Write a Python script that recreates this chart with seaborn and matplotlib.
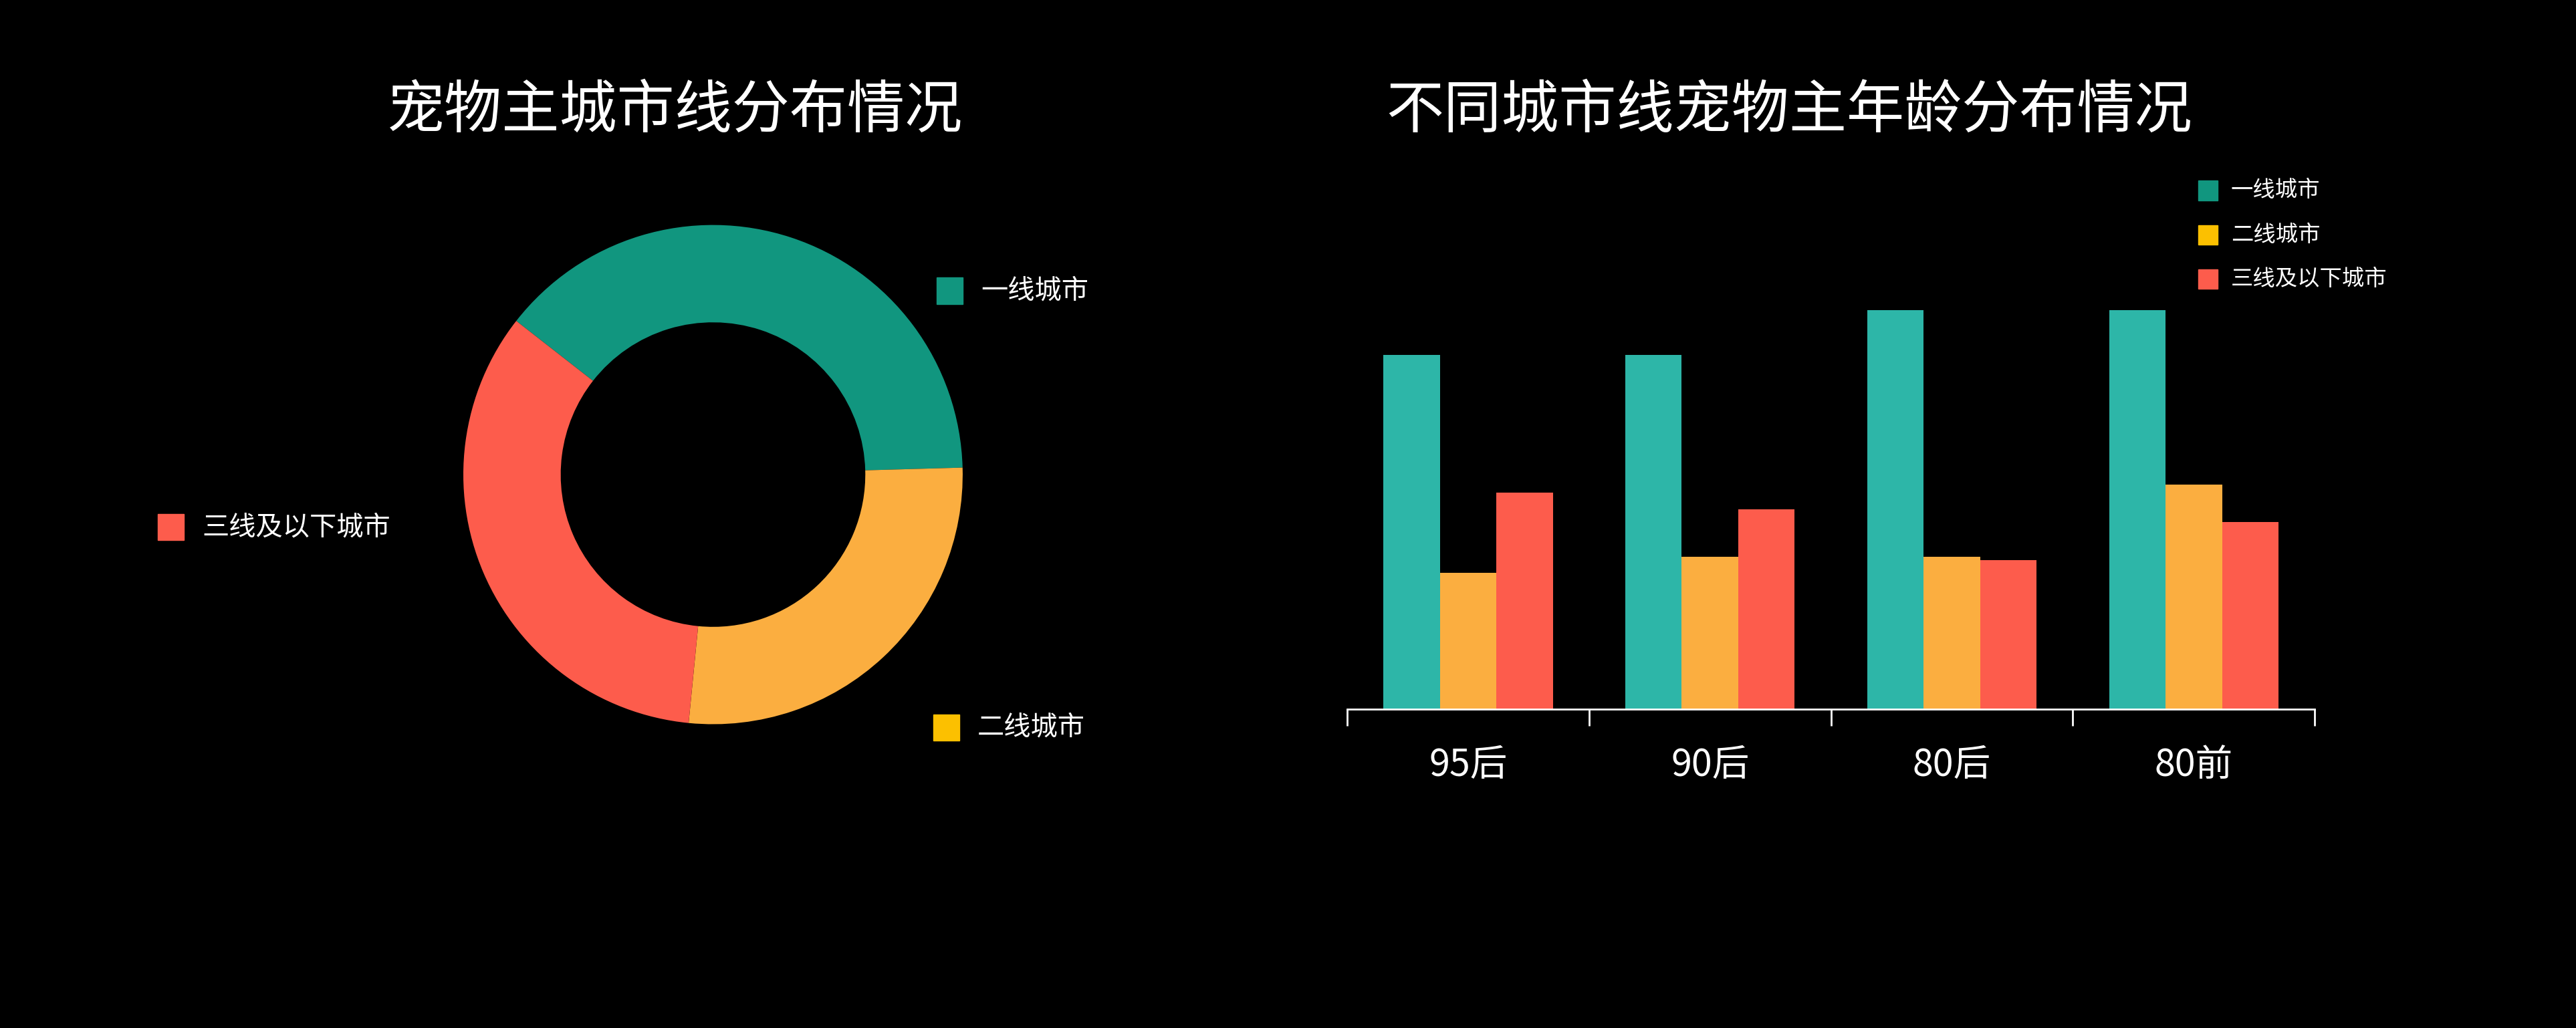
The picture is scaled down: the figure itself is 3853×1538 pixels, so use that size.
import matplotlib
matplotlib.use("Agg")
import matplotlib.pyplot as plt
import seaborn as sns
import pandas as pd
from matplotlib.patches import Rectangle

plt.rcParams["font.family"] = "Noto Sans CJK SC"

# data
pie_labels = ["一线城市", "二线城市", "三线及以下城市"]
pie_values = [39, 27, 34]
pie_colors = ["#11967f", "#fbae40", "#fd5c4c"]
legend_colors = ["#11967f", "#fcc000", "#fd5c4c"]

age_groups = ["95后", "90后", "80后", "80前"]
tier1 = [21.6, 21.6, 24.3, 24.3]
tier2 = [8.3, 9.3, 9.3, 13.7]
tier3 = [13.2, 12.2, 9.1, 11.4]
bar_colors = ["#2db6a8", "#fbae40", "#fd5c4c"]

W, H = 1568, 626  # layout in reference display pixels
fig = plt.figure(figsize=(38.53, 15.38), dpi=100, facecolor="black")

def fx(x): return x / W
def fy(y): return 1 - y / H

# donut
cx, cy, r = 434, 289, 152
ax1 = fig.add_axes([fx(cx - r), fy(cy + r), 2 * r / W, 2 * r / H])
ax1.pie(pie_values, colors=pie_colors, startangle=142, counterclock=False,
        radius=1, wedgeprops=dict(width=0.39, linewidth=0))
ax1.set_aspect("equal")
ax1.set_xlim(-1, 1); ax1.set_ylim(-1, 1)
ax1.axis("off")
fig.text(fx(411), fy(68), "宠物主城市线分布情况", color="white", fontsize=62, ha="center", va="center")

for (x, y), lab, c in zip([(578, 177), (576, 443), (104, 321)], pie_labels, legend_colors):
    s = 16
    fig.patches.append(Rectangle((fx(x - s / 2), fy(y + s / 2)), s / W, s / H,
                                 transform=fig.transFigure, color=c))
    fig.text(fx(x + 19), fy(y), lab, color="white", fontsize=29, ha="left", va="center")

# grouped bars
df = pd.DataFrame({
    "age": age_groups * 3,
    "tier": [pie_labels[0]] * 4 + [pie_labels[1]] * 4 + [pie_labels[2]] * 4,
    "value": tier1 + tier2 + tier3,
})
ax2 = fig.add_axes([fx(820), fy(432), fx(1409) - fx(820), (432 - 110) / H])
sns.barplot(data=df, x="age", y="value", hue="tier", palette=bar_colors,
            width=0.7, ax=ax2, legend=False, saturation=1, linewidth=0)
ax2.set_facecolor("black")
ax2.set_xlim(-0.5, 3.5)
ax2.set_ylim(0, 32.2)
for sp in ["top", "right", "left"]:
    ax2.spines[sp].set_visible(False)
ax2.spines["bottom"].set_color("white")
ax2.spines["bottom"].set_linewidth(2)
ax2.set_yticks([])
ax2.set_xlabel(""); ax2.set_ylabel("")
ax2.set_xticks([-0.5, 0.5, 1.5, 2.5, 3.5], minor=True)
ax2.tick_params(axis="x", which="minor", length=18, width=2, color="white")
ax2.tick_params(axis="x", which="major", length=0, labelsize=40, labelcolor="white", pad=40)
fig.text(fx(1089), fy(68), "不同城市线宠物主年龄分布情况", color="white", fontsize=62, ha="center", va="center")

for i, (lab, c) in enumerate(zip(pie_labels, legend_colors)):
    y = 116 + 27 * i
    s = 12
    fig.patches.append(Rectangle((fx(1344 - s / 2), fy(y + s / 2)), s / W, s / H,
                                 transform=fig.transFigure, color=c))
    fig.text(fx(1358), fy(y), lab, color="white", fontsize=24, ha="left", va="center")

fig.savefig("out.png", dpi=100, facecolor="black")
